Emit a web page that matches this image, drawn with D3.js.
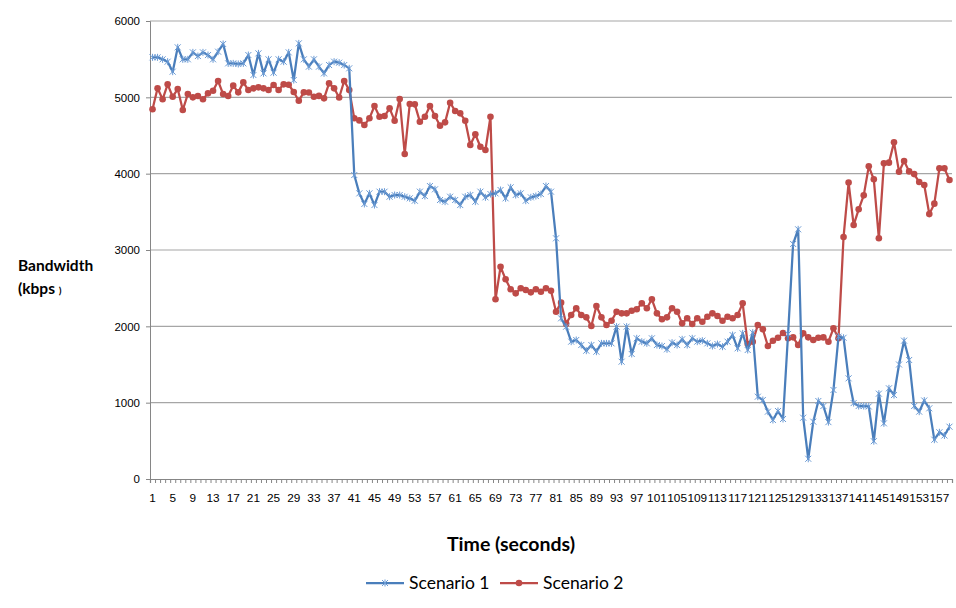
<!DOCTYPE html>
<html>
<head>
<meta charset="utf-8">
<script src="https://cdn.jsdelivr.net/npm/d3@7/dist/d3.min.js"></script>
<style>
  html, body { margin: 0; padding: 0; background: #fff; }
  svg { display: block; font-family: Lato, "Open Sans", "Liberation Sans", sans-serif; }
</style>
</head>
<body>
<svg id="chart" width="956" height="608"></svg>
<script>
// Bandwidth (kbps) per second, seconds 1..159
const scenario1 = [
  5524, 5524, 5498, 5467, 5336, 5655, 5498, 5498, 5589, 5541,
  5589, 5554, 5498, 5598, 5699, 5445, 5445, 5437, 5445, 5554,
  5292, 5576, 5314, 5498, 5323, 5498, 5467, 5589, 5227, 5707,
  5498, 5402, 5498, 5402, 5314, 5423, 5467, 5454, 5423, 5380,
  3982, 3742, 3603, 3742, 3589, 3764, 3764, 3698, 3720, 3720,
  3698, 3677, 3646, 3764, 3707, 3838, 3795, 3655, 3633, 3698,
  3655, 3589, 3698, 3720, 3633, 3764, 3690, 3733, 3742, 3786,
  3677, 3821, 3720, 3742, 3646, 3690, 3707, 3733, 3838, 3764,
  3153, 2105, 1995, 1799, 1821, 1755, 1681, 1755, 1668, 1777,
  1777, 1777, 1996, 1537, 1996, 1638, 1843, 1799, 1777, 1843,
  1755, 1742, 1699, 1786, 1755, 1830, 1755, 1843, 1799, 1812,
  1777, 1742, 1768, 1733, 1799, 1886, 1712, 1908, 1690, 1917,
  1078, 1035, 882, 773, 891, 786, 1900, 3079, 3271, 803,
  265, 751, 1022, 956, 745, 1166, 1865, 1850, 1319, 995,
  956, 956, 950, 495, 1118, 729, 1188, 1100, 1500, 1812,
  1559, 956, 882, 1028, 926, 515, 612, 570, 685
];
const scenario2 = [
  4843, 5118, 4974, 5170, 5008, 5109, 4834, 5043, 5000, 5017,
  4974, 5052, 5087, 5214, 5043, 5017, 5153, 5065, 5196, 5096,
  5118, 5131, 5118, 5096, 5161, 5096, 5170, 5165, 5070, 4956,
  5065, 5063, 5008, 5019, 4987, 5183, 5118, 4998, 5214, 5096,
  4725, 4698, 4637, 4725, 4886, 4746, 4755, 4856, 4694, 4978,
  4258, 4913, 4908, 4681, 4745, 4886, 4755, 4629, 4672, 4930,
  4821, 4790, 4694, 4375, 4515, 4353, 4310, 4746, 2354, 2781,
  2616, 2485, 2432, 2498, 2476, 2445, 2485, 2454, 2498, 2467,
  2192, 2310, 2035, 2148, 2236, 2148, 2118, 2004, 2266, 2118,
  2017, 2074, 2192, 2170, 2170, 2205, 2223, 2301, 2236, 2354,
  2170, 2092, 2118, 2236, 2192, 2039, 2105, 2031, 2105, 2061,
  2126, 2170, 2135, 2074, 2126, 2105, 2148, 2301, 1768, 1799,
  2017, 1961, 1742, 1812, 1850, 1912, 1843, 1856, 1755, 1908,
  1856, 1821, 1850, 1855, 1799, 1974, 1843, 3170, 3884, 3327,
  3533, 3716, 4096, 3926, 3153, 4135, 4144, 4410, 4026, 4166,
  4030, 3994, 3890, 3851, 3470, 3607, 4070, 4070, 3917
];
const seconds = d3.range(1, scenario1.length + 1);
const secondLabels = seconds.filter(s => (s - 1) % 4 === 0);
const bandwidthTicks = [0, 1000, 2000, 3000, 4000, 5000, 6000];
const seriesNames = ["Scenario 1", "Scenario 2"];

const colors = { s1: "#4a7ebb", s2: "#be4b48" };
const plot = { left: 150, right: 952, top: 21, bottom: 479 };

const svg = d3.select("#chart");

const x = d3.scaleBand().domain(seconds).range([plot.left, plot.right]).paddingInner(0).paddingOuter(0);
const xEdge = d3.scaleLinear().domain([0, seconds.length]).range([plot.left, plot.right]);
const y = d3.scaleLinear().domain([0, 6000]).range([plot.bottom, plot.top]);
const cx = s => x(s) + x.bandwidth() / 2;

// horizontal gridlines
svg.append("g")
  .selectAll("line")
  .data(bandwidthTicks.filter(v => v > 0))
  .join("line")
  .attr("x1", plot.left).attr("x2", plot.right)
  .attr("y1", d => y(d)).attr("y2", d => y(d))
  .attr("stroke", "#a6a6a6").attr("stroke-width", 1.2);

// y axis
const yAxis = svg.append("g")
  .attr("transform", `translate(${plot.left},0)`)
  .call(d3.axisLeft(y).tickValues(bandwidthTicks).tickSize(4).tickPadding(6).tickFormat(d3.format("d")));
yAxis.select(".domain").attr("stroke", "#868686");
yAxis.selectAll(".tick line").attr("stroke", "#868686");
yAxis.selectAll("text").attr("font-size", 11.5).attr("fill", "#000");

// x axis: tick marks between categories
const xTicks = svg.append("g")
  .attr("transform", `translate(0,${plot.bottom})`)
  .call(d3.axisBottom(xEdge).tickValues(d3.range(0, seconds.length + 1)).tickSize(4).tickFormat(""));
xTicks.select(".domain").attr("stroke", "#868686").attr("stroke-width", 1.2);
xTicks.selectAll(".tick line").attr("stroke", "#868686");

// x axis labels
const xLabels = svg.append("g")
  .attr("transform", `translate(0,${plot.bottom})`)
  .call(d3.axisBottom(x).tickValues(secondLabels).tickSize(0).tickPadding(15));
xLabels.select(".domain").remove();
xLabels.selectAll("text").attr("font-size", 11.8).attr("fill", "#000");

// axis titles
svg.append("text")
  .attr("x", 18).attr("y", 271)
  .attr("font-size", 15.5).attr("font-weight", "bold")
  .text("Bandwidth");
const unit = svg.append("text")
  .attr("x", 18).attr("y", 294)
  .attr("font-size", 15.5).attr("font-weight", "bold");
unit.append("tspan").text("(kbps ");
unit.append("tspan").attr("font-size", 10).text(")");

svg.append("text")
  .attr("x", 511).attr("y", 551)
  .attr("text-anchor", "middle")
  .attr("font-size", 19.5).attr("font-weight", "bold")
  .text("Time (seconds)");

const line = d3.line().x((d, i) => cx(seconds[i])).y(d => y(d));

const starPath = "M-3,-3L3,3M-3,3L3,-3M0,-3.5L0,3.5";

// Scenario 2 (red, circles)
svg.append("path").datum(scenario2)
  .attr("d", line).attr("fill", "none")
  .attr("stroke", colors.s2).attr("stroke-width", 2.25).attr("stroke-linejoin", "round");
svg.append("g").selectAll("circle").data(scenario2).join("circle")
  .attr("cx", (d, i) => cx(seconds[i])).attr("cy", d => y(d)).attr("r", 3.3)
  .attr("fill", colors.s2);

// Scenario 1 (blue, star markers)
svg.append("path").datum(scenario1)
  .attr("d", line).attr("fill", "none")
  .attr("stroke", colors.s1).attr("stroke-width", 2.25).attr("stroke-linejoin", "round");
svg.append("g").selectAll("path").data(scenario1).join("path")
  .attr("d", starPath)
  .attr("transform", (d, i) => `translate(${cx(seconds[i])},${y(d)})`)
  .attr("stroke", "#6a9ad4").attr("stroke-width", 1).attr("fill", "none");

// legend
const legend = svg.append("g").attr("transform", "translate(0,583)");
const items = [
  { name: seriesNames[0], color: colors.s1, x0: 366, marker: "star" },
  { name: seriesNames[1], color: colors.s2, x0: 500, marker: "circle" }
];
items.forEach(it => {
  legend.append("line").attr("x1", it.x0).attr("x2", it.x0 + 38).attr("y1", 0).attr("y2", 0)
    .attr("stroke", it.color).attr("stroke-width", 2.25);
  if (it.marker === "star") {
    legend.append("path").attr("d", starPath).attr("transform", `translate(${it.x0 + 19},0)`)
      .attr("stroke", "#6a9ad4").attr("stroke-width", 1).attr("fill", "none");
  } else {
    legend.append("circle").attr("cx", it.x0 + 19).attr("cy", 0).attr("r", 3.3).attr("fill", it.color);
  }
  legend.append("text").attr("x", it.x0 + 43).attr("y", 6)
    .attr("font-size", 17.5).attr("fill", "#000").text(it.name);
});
</script>
</body>
</html>
